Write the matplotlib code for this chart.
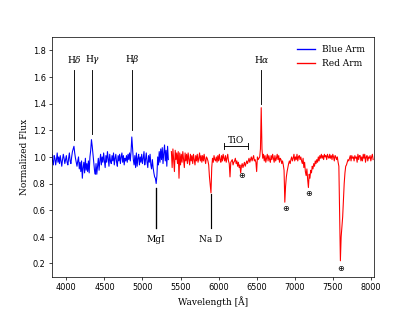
import numpy as np
import matplotlib
matplotlib.use("Agg")
import matplotlib.pyplot as plt
from matplotlib.lines import Line2D

plt.rcParams['mathtext.fontset'] = 'dejavuserif'

blue_start, blue_step = 3790, 10
blue_flux = [
    1.00,0.96,1.02,0.97,0.94,1.01,0.99,0.94,0.98,1.03,
    0.96,1.00,0.95,1.01,0.97,0.93,0.98,1.02,0.99,0.95,
    0.98,1.01,0.96,0.94,0.99,1.03,0.97,0.95,1.00,1.04,
    1.06,1.08,1.03,0.99,0.96,0.93,0.97,1.00,0.91,0.96,
    0.89,0.97,0.84,0.92,0.96,0.88,0.99,0.90,0.95,0.89,
    0.97,0.88,1.00,1.05,1.13,1.08,1.02,0.96,0.90,0.87,
    0.95,0.87,0.93,0.99,0.90,0.97,1.02,0.94,1.00,0.96,
    1.03,0.97,0.92,1.01,0.96,1.04,0.99,0.93,1.02,0.97,
    0.95,1.01,0.97,1.03,0.94,0.99,1.02,0.96,0.93,1.01,
    0.97,1.02,0.95,1.00,1.03,0.96,1.01,0.94,0.99,0.97,
    1.01,0.96,1.02,0.98,1.03,0.97,1.04,1.15,1.07,0.98,
    0.94,1.01,0.92,1.03,0.93,0.99,1.02,0.94,1.00,0.96,
    1.02,0.95,0.99,1.04,0.94,0.98,1.03,0.96,0.92,1.01,
    0.96,1.02,0.94,0.91,0.98,0.92,0.88,0.85,0.84,0.80,
    0.86,1.00,0.94,1.04,0.96,1.06,0.98,1.07,0.95,1.03,
    1.09,0.97,1.05,0.93,1.08,0.98,
]

red_start, red_step = 5380, 10
red_flux = [
    1.04,0.92,1.06,0.97,0.89,1.05,0.98,1.03,0.95,1.04,
    0.84,1.03,0.94,1.02,0.96,1.04,0.98,0.92,1.03,0.97,
    1.02,0.95,1.03,0.98,0.94,1.02,0.97,1.01,0.95,1.02,
    0.98,0.94,1.01,0.97,1.02,0.96,0.99,1.03,0.97,1.01,
    0.96,1.01,0.97,1.02,0.98,0.95,1.00,0.99,0.97,0.94,
    0.85,0.79,0.73,0.92,0.99,0.96,1.01,0.98,0.97,1.00,
    0.96,1.01,0.97,1.02,0.98,0.96,1.01,0.97,1.02,0.99,
    0.97,1.01,0.96,0.99,1.02,0.97,0.95,0.85,0.96,0.97,
    0.98,0.94,0.96,0.97,0.99,0.95,0.97,0.93,0.96,0.92,
    0.94,0.88,0.93,0.95,0.92,0.94,0.96,0.93,0.95,0.97,
    0.95,0.97,0.99,0.96,0.98,1.00,0.97,0.99,1.01,0.97,
    0.98,0.96,0.89,1.00,0.98,0.99,1.00,1.06,1.37,1.06,
    0.99,1.02,0.97,1.01,0.96,0.99,1.02,0.97,1.01,0.98,
    0.96,1.01,0.98,1.02,0.99,0.96,1.01,0.97,0.99,1.02,
    0.98,1.01,0.96,0.99,0.98,0.95,0.97,0.94,0.90,0.66,
    0.78,0.85,0.89,0.92,0.95,0.97,0.95,0.98,1.00,0.97,
    0.99,1.02,0.97,1.00,0.98,1.02,0.97,1.00,1.01,0.98,
    1.00,0.97,0.95,0.99,0.92,0.96,0.89,0.86,0.91,0.83,
    0.77,0.87,0.84,0.90,0.88,0.93,0.91,0.95,0.93,0.97,
    0.95,0.98,0.96,1.00,0.97,1.01,0.99,1.02,0.99,1.01,
    0.98,1.02,1.00,1.01,0.98,1.02,1.00,0.99,1.02,0.99,
    1.01,0.98,1.02,1.00,0.97,1.01,1.00,0.98,1.00,0.96,
    0.93,0.55,0.22,0.40,0.48,0.55,0.68,0.80,0.88,0.93,
    0.94,0.96,0.98,0.97,0.99,1.01,0.97,1.01,0.99,1.00,
    0.97,1.01,0.99,1.00,0.96,1.02,0.98,1.01,1.01,0.97,
    1.00,0.97,1.02,0.99,1.02,0.96,1.00,1.01,0.97,1.00,
    0.99,1.01,0.97,1.00,1.02,0.98,
]

series_labels = ["Blue Arm", "Red Arm"]
series_colors = ["#0000ff", "#ff0000"]

# emission line markers
emission_labels = ["H$\\delta$", "H$\\gamma$", "H$\\beta$", "H$\\alpha$"]
emission_waves = [4102, 4340, 4861, 6563]
emission_bottoms = [1.13, 1.17, 1.20, 1.40]
emission_top = 1.655
emission_label_y = 1.73

# absorption markers
absorp_labels = ["MgI", "Na D"]
absorp_waves = [[5172, 5180], [5897]]
absorp_tops = [0.77, 0.72]
absorp_bottom = 0.465
absorp_label_y = 0.385

# TiO bracket
tio_range = [6065, 6390]
tio_y = 1.083

# telluric symbols
tell_waves = [6300, 6875, 7182, 7603]
tell_y = [0.86, 0.615, 0.73, 0.165]

serif = 'DejaVu Serif'

fig = plt.figure(figsize=(6.4, 4.8), dpi=415/6.4)
ax = fig.add_subplot(111)

bw = blue_start + blue_step * np.arange(len(blue_flux))
rw = red_start + red_step * np.arange(len(red_flux))
ax.plot(bw, blue_flux, color=series_colors[0], lw=1.2)
ax.plot(rw, red_flux, color=series_colors[1], lw=1.2)

for lab, w, yb in zip(emission_labels, emission_waves, emission_bottoms):
    ax.plot([w, w], [yb, emission_top], color='k', lw=1.0)
    ax.text(w, emission_label_y, lab, ha='center', va='center', fontfamily=serif, fontsize=10)

for lab, ws, yt in zip(absorp_labels, absorp_waves, absorp_tops):
    for w in ws:
        ax.plot([w, w], [absorp_bottom, yt], color='k', lw=1.3)
    ax.text(np.mean(ws), absorp_label_y, lab, ha='center', va='center', fontfamily=serif, fontsize=10)

ax.plot(tio_range, [tio_y, tio_y], color='k', lw=1.0)
for w in tio_range:
    ax.plot([w, w], [tio_y - 0.025, tio_y + 0.025], color='k', lw=1.0)
ax.text(np.mean(tio_range), tio_y + 0.01, "TiO", ha='center', va='bottom', fontfamily=serif, fontsize=10)

for w, y in zip(tell_waves, tell_y):
    ax.text(w, y, "\u2295", ha='center', va='center', fontsize=9)

ax.set_xlim(3810, 8035)
ax.set_ylim(0.1, 1.9)
ax.set_xticks(np.arange(4000, 8001, 500))
ax.set_yticks(np.arange(0.2, 1.81, 0.2))
ax.tick_params(labelsize=9)
ax.set_xlabel("Wavelength [\u00c5]", fontfamily=serif)
ax.set_ylabel("Normalized Flux", fontfamily=serif)
handles = [Line2D([0], [0], color=c, lw=1.5) for c in series_colors]
ax.legend(handles, series_labels, loc='upper right', frameon=False, prop={'family': serif})

fig.savefig("out.png", dpi=415/6.4)
